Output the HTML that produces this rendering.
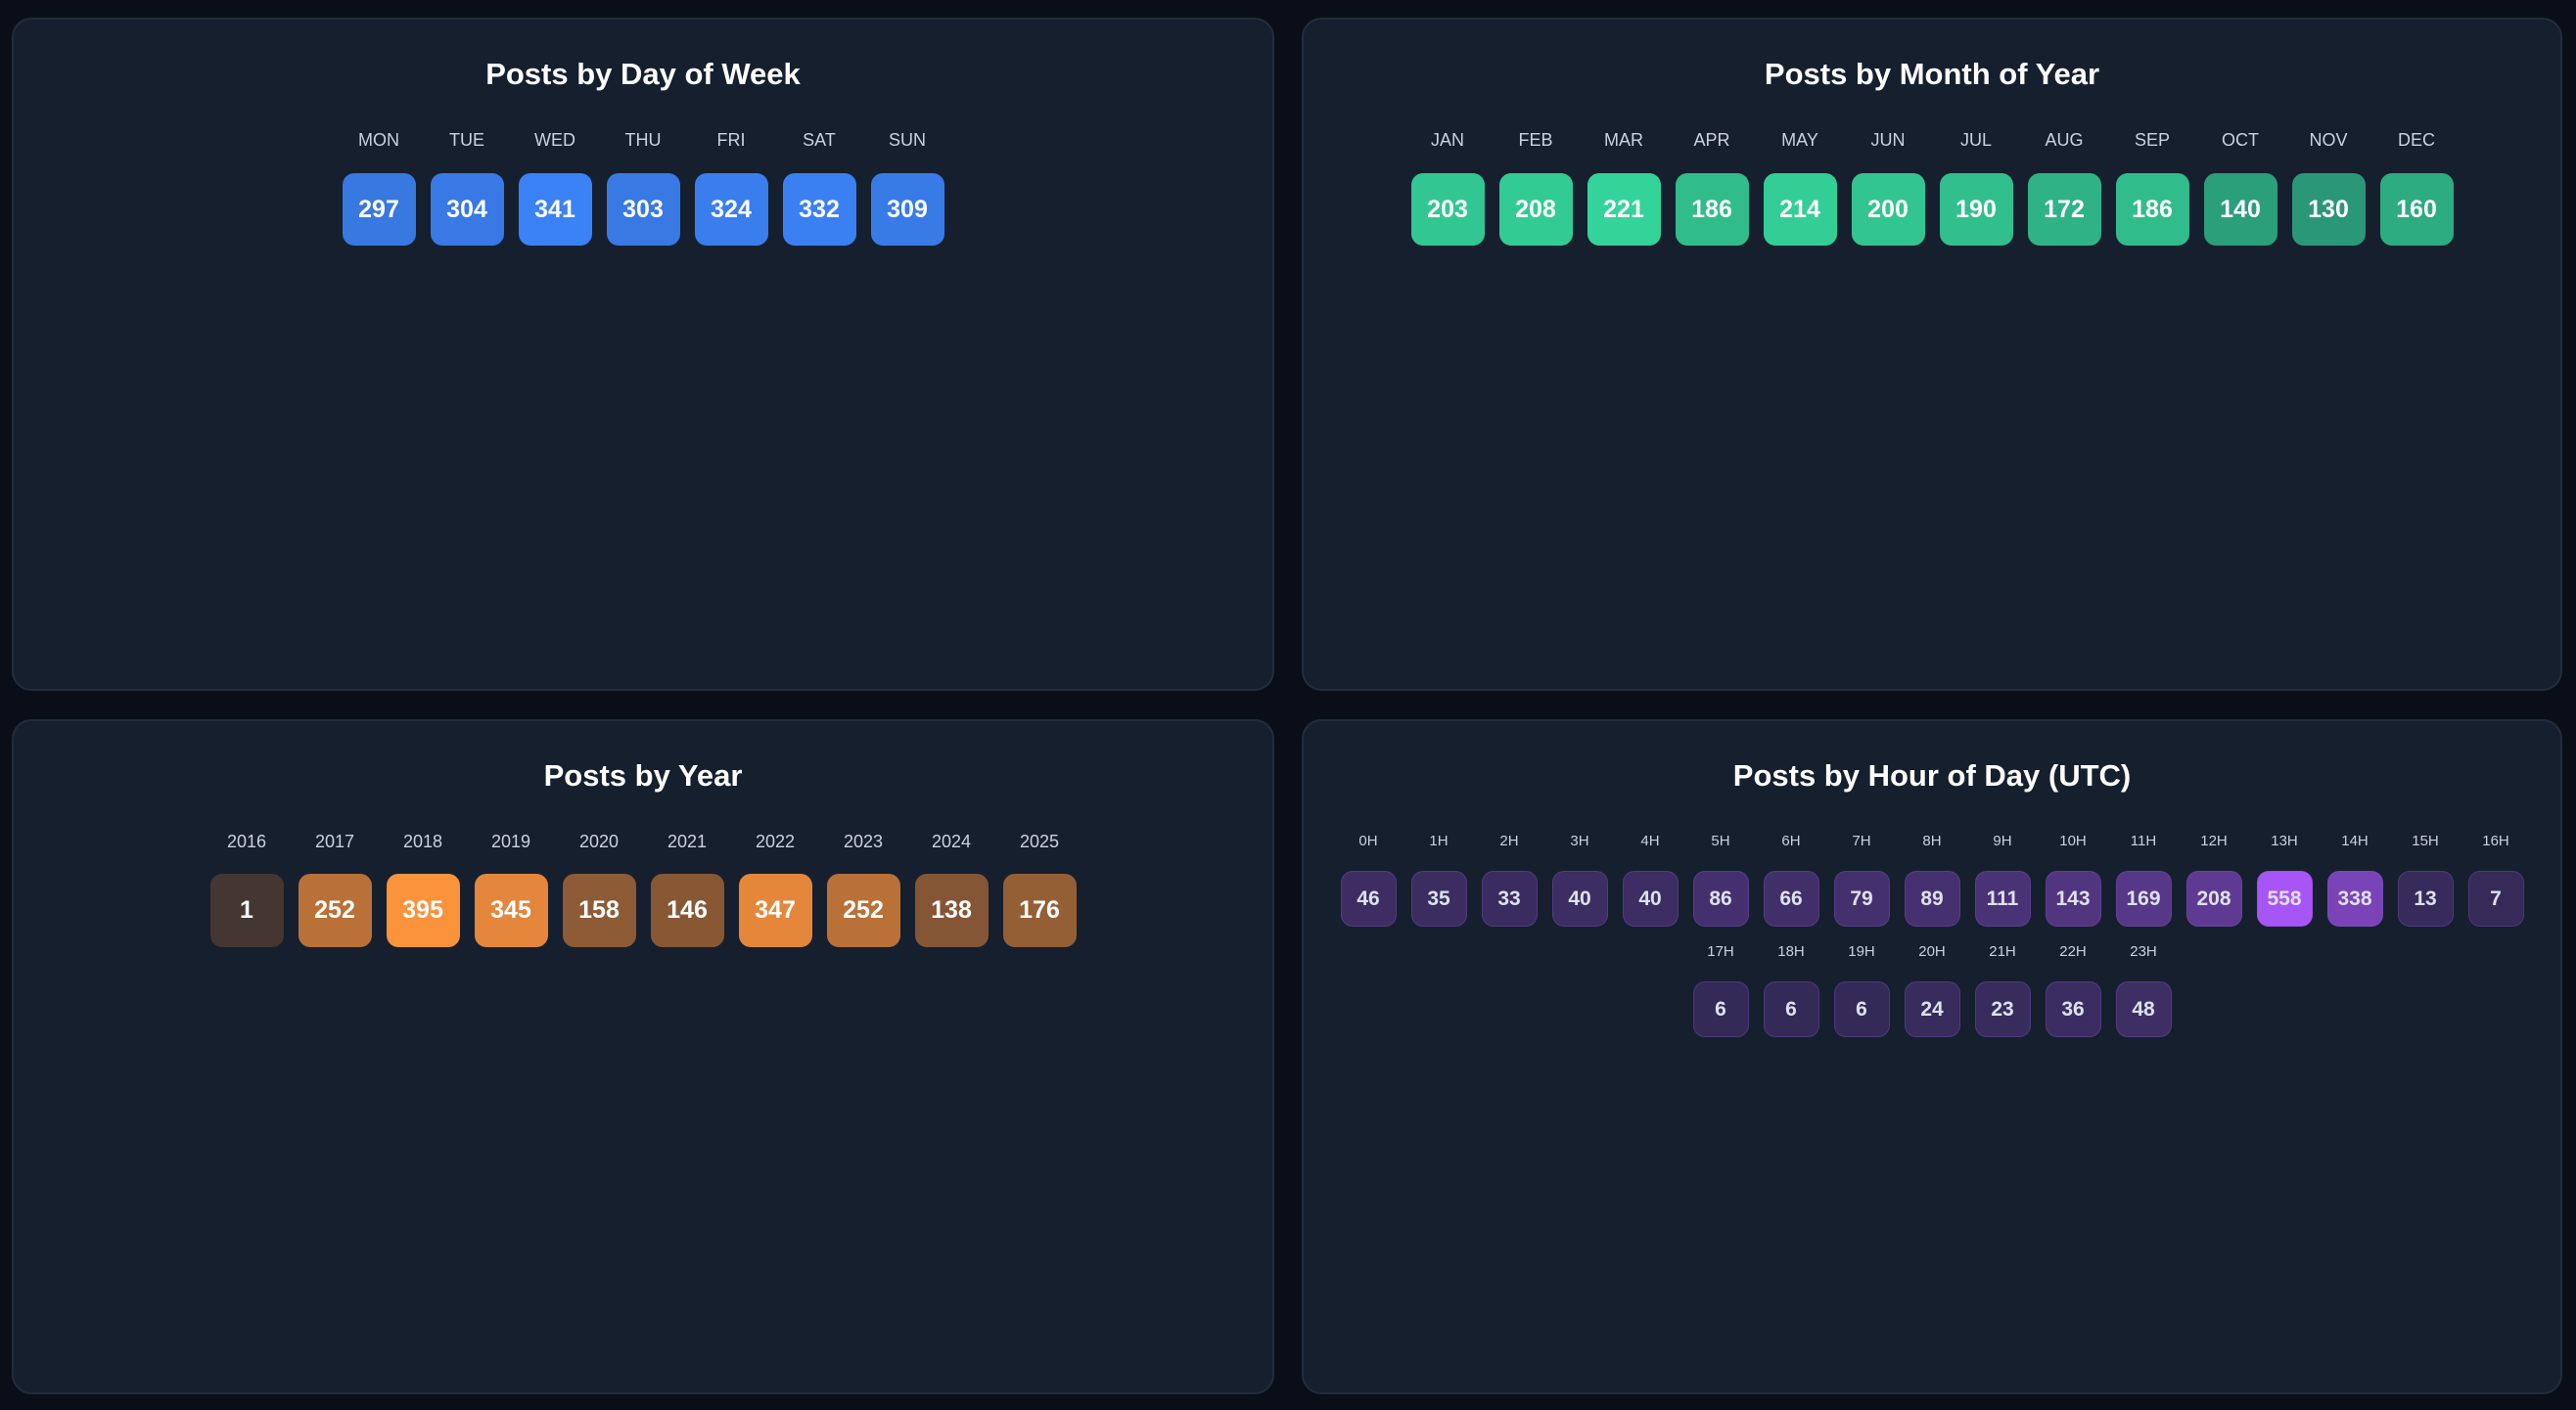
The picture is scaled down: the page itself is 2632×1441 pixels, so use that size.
<!DOCTYPE html>
<html><head><meta charset="utf-8">
<style>
html,body{margin:0;padding:0;background:#0a0e18;width:2632px;height:1441px;overflow:hidden;font-family:"Liberation Sans",sans-serif;}
.panel{position:absolute;background:#161f2e;border:2px solid #222c3c;border-radius:20px;box-sizing:border-box;}
.title{position:absolute;left:0;right:0;top:38px;text-align:center;color:#fff;font-weight:bold;font-size:31px;}
.row{position:absolute;left:0;right:0;display:flex;justify-content:center;gap:15px;}
.cell{display:flex;flex-direction:column;align-items:center;}
.lab{color:#cbd2df;font-size:18px;height:20px;line-height:20px;}
.box{border-radius:12px;display:flex;align-items:center;justify-content:center;color:#fff;font-weight:bold;font-size:25px;box-sizing:border-box;}
</style></head><body>
<div class="panel" style="left:12px;top:18px;width:1290px;height:688px;"><div class="title">Posts by Day of Week</div><div id="p1"></div></div>
<div class="panel" style="left:1330px;top:18px;width:1288px;height:688px;"><div class="title">Posts by Month of Year</div><div id="p2"></div></div>
<div class="panel" style="left:12px;top:735px;width:1290px;height:690px;"><div class="title">Posts by Year</div><div id="p3"></div></div>
<div class="panel" style="left:1330px;top:735px;width:1288px;height:690px;"><div class="title">Posts by Hour of Day (UTC)</div><div id="p4"></div></div>
<script>
function mk(id,labels,vals,rgb,opt){
  var max=Math.max.apply(null,vals);
  var host=document.getElementById(id);
  var per=opt.per||labels.length;
  var rowH=opt.rowH||0;
  for(var r=0;r*per<labels.length;r++){
    var row=document.createElement('div');row.className='row';
    row.style.top=(opt.top+r*rowH)+'px';
    for(var i=r*per;i<Math.min(labels.length,(r+1)*per);i++){
      var a=0.2+0.8*vals[i]/max;
      var c=rgb.map(function(v,k){return Math.round(a*v+(1-a)*[22,31,46][k]);});
      var cell=document.createElement('div');cell.className='cell';
      cell.innerHTML='<div class="lab" style="font-size:'+opt.lf+'px">'+labels[i]+'</div>'+
        '<div class="box" style="margin-top:'+opt.gap+'px;width:'+opt.w+'px;height:'+opt.h+'px;font-size:'+opt.nf+'px;background:rgb('+c+');'+(opt.tc?'color:'+opt.tc+';border:1px solid rgba(120,90,180,0.35);':'')+'">'+vals[i]+'</div>';
      row.appendChild(cell);
    }
    host.appendChild(row);
  }
}
mk('p1',['MON','TUE','WED','THU','FRI','SAT','SUN'],[297,304,341,303,324,332,309],[59,130,246],{top:113,gap:24,w:75,h:74,lf:18,nf:25});
mk('p2',['JAN','FEB','MAR','APR','MAY','JUN','JUL','AUG','SEP','OCT','NOV','DEC'],[203,208,221,186,214,200,190,172,186,140,130,160],[52,211,153],{top:113,gap:24,w:75,h:74,lf:18,nf:25});
mk('p3',['2016','2017','2018','2019','2020','2021','2022','2023','2024','2025'],[1,252,395,345,158,146,347,252,138,176],[251,146,60],{top:113,gap:23,w:75,h:75,lf:18,nf:25});
var hl=[],hv=[46,35,33,40,40,86,66,79,89,111,143,169,208,558,338,13,7,6,6,6,24,23,36,48];
for(var i=0;i<24;i++)hl.push(i+'H');
mk('p4',hl,hv,[168,85,247],{top:113,rowH:113,per:17,gap:20,w:57,h:57,lf:15,nf:21,tc:'#dde0ee'});
</script>
</body></html>
